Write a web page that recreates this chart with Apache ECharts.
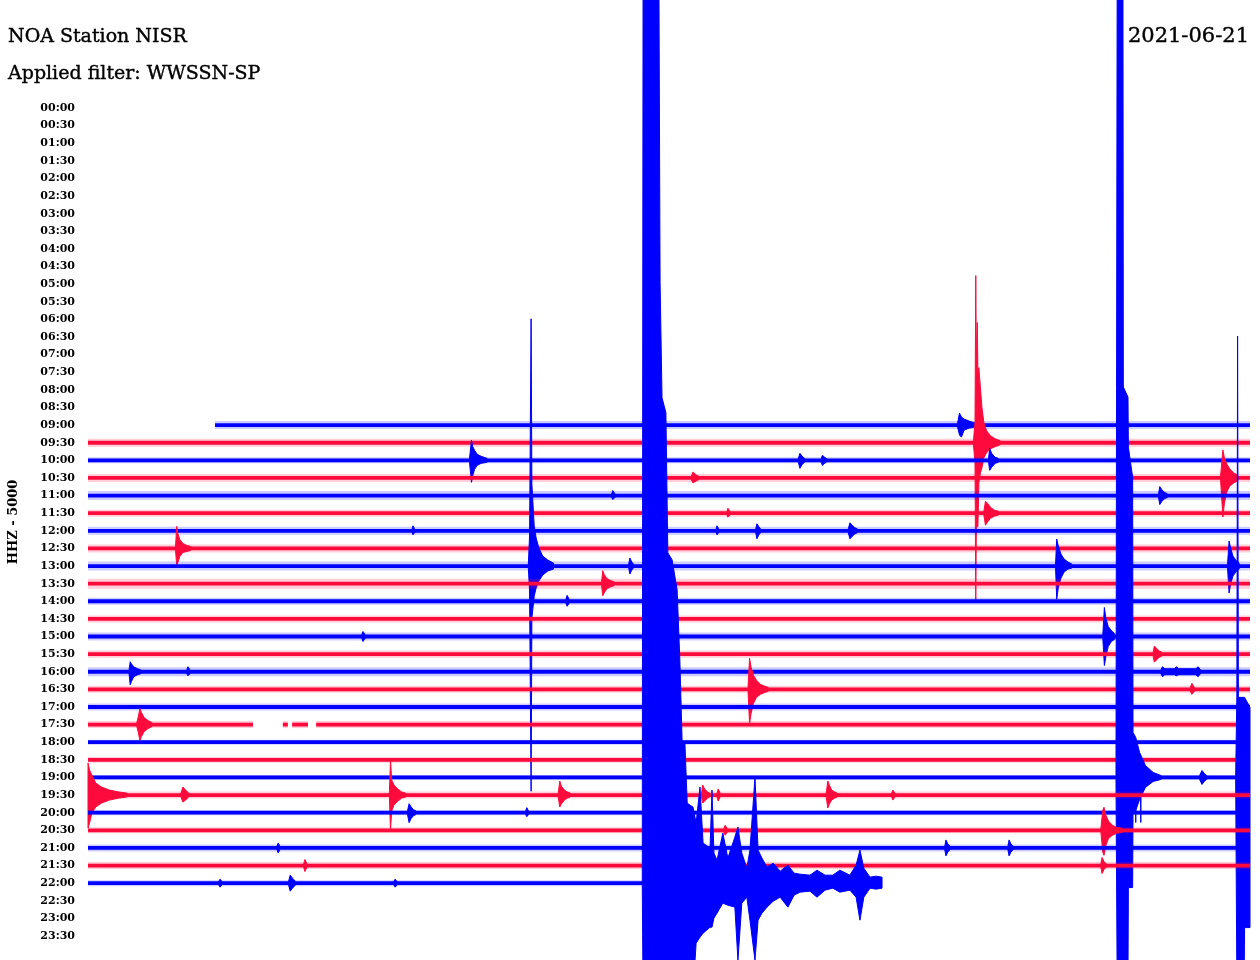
<!DOCTYPE html>
<html><head><meta charset="utf-8">
<script src="https://cdn.jsdelivr.net/npm/echarts@6/dist/echarts.min.js"></script>
<style>html,body{margin:0;padding:0;background:#fff}#c{width:1260px;height:960px}</style>
</head><body><div id="c"></div>
<script>
// ---- tick labels (one helicorder line per half hour) ----
const rowLabels = ['00:00','00:30','01:00','01:30','02:00','02:30','03:00','03:30','04:00','04:30','05:00','05:30',
  '06:00','06:30','07:00','07:30','08:00','08:30','09:00','09:30','10:00','10:30','11:00','11:30',
  '12:00','12:30','13:00','13:30','14:00','14:30','15:00','15:30','16:00','16:30','17:00','17:30',
  '18:00','18:30','19:00','19:30','20:00','20:30','21:00','21:30','22:00','22:30','23:00','23:30'];

// ---- lines that carry data ----
const traceRows = ['09:00','09:30','10:00','10:30','11:00','11:30','12:00','12:30','13:00','13:30','14:00','14:30',
  '15:00','15:30','16:00','16:30','17:00','17:30','18:00','18:30','19:00','19:30','20:00','20:30','21:00','21:30','22:00'];
// [first minute, last minute] of recorded data in each line
const traceSpans = [[3.28,30],[0,30],[0,30],[0,30],[0,30],[0,30],[0,30],[0,30],[0,30],[0,30],[0,30],[0,30],
  [0,30],[0,30],[0,30],[0,30],[0,30],[0,30],[0,30],[0,30],[0,30],[0,30],[0,30],[0,30],[0,30],[0,30],[0,20.5]];
// data gaps [line, from minute, to minute]
const traceGaps = [['17:30',4.26,5.03],['17:30',5.16,5.27],['17:30',5.68,5.89]];
// background noise level (counts) per line
const noiseLevel = [4,4,3,4,4.5,3.5,4,4,4.5,5,3.5,3.5,4,3.5,4.5,3.5,3.5,3.5,2.5,3,2.5,3.5,2.5,3,3.5,3.5,3];

// ---- events: each is a list of [minute, upward amplitude, downward amplitude] (counts) ----
const q0900 = [
  [[22.45,2,2],[22.50,12,10],[22.55,8,12],[22.62,6,5],[22.75,4,3],[22.9,2,2]]
];
const q0930 = [
  [[22.86,2,2],[22.90,20,20],[22.92,167,157],[22.935,80,84],[22.96,120,84],[22.975,70,84],[23.00,75,40],[23.04,55,30],[23.08,35,25],[23.13,20,15],[23.20,12,10],[23.30,7,6],[23.42,4,4],[23.55,2,2]]
];
const q1000 = [
  [[9.85,2,2],[9.90,20,22],[9.93,14,16],[9.98,10,9],[10.05,6,5],[10.15,4,3],[10.3,2,2]],
  [[18.34,2,2],[18.38,7,8],[18.44,4,4],[18.5,2,2]],
  [[18.93,2,2],[18.96,5,5],[19.02,3,3],[19.06,2,2]],
  [[23.25,2,2],[23.28,12,10],[23.33,7,7],[23.42,3,3],[23.5,2,2]]
];
const q1030 = [
  [[15.58,2,2],[15.62,6,5],[15.7,3,3],[15.76,2,2]],
  [[29.24,2,2],[29.30,28,39],[29.34,20,25],[29.40,14,14],[29.48,9,8],[29.58,5,5],[29.68,3,3]]
];
const q1100 = [
  [[13.52,2,2],[13.55,5,4],[13.6,2,2]],
  [[27.64,2,2],[27.67,9,9],[27.72,6,6],[27.8,3,3],[27.86,2,2]]
];
const q1130 = [
  [[16.5,2,2],[16.52,5,4],[16.57,2,2]],
  [[23.13,2,2],[23.17,12,12],[23.22,10,9],[23.3,6,5],[23.4,3,3],[23.5,2,2]]
];
const q1200 = [
  [[8.37,2,2],[8.39,5,4],[8.43,2,2]],
  [[16.22,2,2],[16.24,5,4],[16.28,2,2]],
  [[17.24,2,2],[17.27,7,8],[17.32,4,4],[17.36,2,2]],
  [[19.63,2,2],[19.67,8,8],[19.72,6,6],[19.8,3,3],[19.86,2,2]]
];
const q1230 = [
  [[2.26,2,2],[2.29,22,17],[2.32,15,14],[2.37,9,8],[2.45,5,4],[2.55,3,3],[2.65,2,2]]
];
const q1300 = [
  [[11.37,3,3],[11.40,30,25],[11.44,247,225],[11.46,82,52],[11.52,40,30],[11.57,28,22],[11.64,18,15],[11.74,10,9],[11.87,6,5],[12.02,3,3]],
  [[13.96,2,2],[13.99,8,8],[14.04,4,4],[14.08,2,2]],
  [[24.98,2,2],[25.01,27,33],[25.05,20,22],[25.12,12,12],[25.2,7,6],[25.3,4,3],[25.4,2,2]],
  [[29.42,2,2],[29.46,25,27],[29.5,18,18],[29.56,10,10],[29.65,5,5],[29.72,3,3]]
];
const q1330 = [
  [[13.26,2,2],[13.29,13,12],[13.33,9,9],[13.4,5,5],[13.5,3,3],[13.58,2,2]]
];
const q1400 = [
  [[12.34,2,2],[12.37,6,5],[12.42,2,2]]
];
const q1430 = [];
const q1500 = [
  [[7.07,2,2],[7.10,5,5],[7.15,2,2]],
  [[26.2,2,2],[26.24,29,29],[26.28,18,20],[26.34,10,10],[26.42,6,5],[26.5,3,3]]
];
const q1530 = [
  [[27.5,2,2],[27.53,8,8],[27.58,6,6],[27.66,3,3],[27.72,2,2]]
];
const q1600 = [
  [[1.06,2,2],[1.09,10,13],[1.12,8,10],[1.18,5,5],[1.28,3,3],[1.36,2,2]],
  [[2.55,2,2],[2.58,5,4],[2.63,2,2]],
  [[27.70,2,2],[27.74,5,5],[27.80,3,3],[28.05,3,3],[28.10,5,4],[28.16,3,3],[28.60,3,3],[28.66,5,5],[28.72,2,2]]
];
const q1630 = [
  [[17.04,2,2],[17.08,31,34],[17.12,22,24],[17.18,14,14],[17.26,9,8],[17.36,5,5],[17.48,3,3],[17.56,2,2]],
  [[28.46,2,2],[28.5,6,5],[28.56,2,2]]
];
const q1700 = [];
const q1730 = [
  [[1.26,2,2],[1.30,8,8],[1.34,16,16],[1.38,12,12],[1.45,7,7],[1.55,4,4],[1.65,2,2]]
];
const q1800 = [];
const q1830 = [];
const q1900 = [
  [[26.54,2,2],[26.57,790,200],[26.72,790,200],[26.73,390,200],[26.85,380,200],[26.86,330,110],[26.97,300,110],
   [26.98,45,35],[27.05,40,33],[27.15,25,22],[27.3,12,10],[27.5,5,4],[27.7,2,2]],
  [[27.04,2,2],[27.05,2,45],[27.06,2,2]],
  [[27.17,2,2],[27.18,2,45],[27.19,2,2]],
  [[28.7,2,2],[28.76,7,7],[28.82,4,4],[28.88,2,2]],
  [[29.63,2,2],[29.66,80,200],[29.68,441,200],[29.70,80,200],[29.85,80,200],[29.86,80,150],[30.0,70,150]]
];
const q1930 = [
  [[0.0,32,33],[0.04,25,28],[0.1,20,18],[0.2,12,12],[0.35,8,8],[0.55,5,5],[0.8,3,3],[1.0,2,2]],
  [[2.40,2,2],[2.45,8,7],[2.52,5,5],[2.6,2,2]],
  [[7.78,2,2],[7.81,35,35],[7.84,15,16],[7.9,10,10],[8.0,6,6],[8.1,3,3],[8.2,2,2]],
  [[12.14,2,2],[12.18,14,12],[12.22,9,9],[12.3,5,5],[12.38,3,3],[12.45,2,2]],
  [[15.84,2,2],[15.87,10,8],[15.92,6,6],[16.0,3,3],[16.05,2,2]],
  [[16.24,2,2],[16.27,6,6],[16.32,2,2]],
  [[19.06,2,2],[19.1,14,13],[19.14,10,9],[19.2,5,5],[19.28,3,3],[19.34,2,2]],
  [[20.75,2,2],[20.78,5,5],[20.83,2,2]]
];
const q2000 = [
  [[8.25,2,2],[8.29,9,10],[8.34,6,6],[8.4,3,3],[8.46,2,2]],
  [[11.30,2,2],[11.33,5,4],[11.37,2,2]]
];
const q2030 = [
  [[16.42,2,2],[16.45,5,5],[16.5,2,2]],
  [[26.15,2,2],[26.2,20,22],[26.23,23,25],[26.28,15,15],[26.35,9,8],[26.45,5,5],[26.55,3,3],[26.7,2,2]]
];
const q2100 = [
  [[4.88,2,2],[4.91,5,5],[4.95,2,2]],
  [[22.12,2,2],[22.15,8,8],[22.2,4,4],[22.25,2,2]],
  [[23.75,2,2],[23.78,8,8],[23.83,4,4],[23.88,2,2]]
];
const q2130 = [
  [[5.57,2,2],[5.60,6,6],[5.65,2,2]],
  [[26.15,2,2],[26.18,8,8],[26.23,4,4],[26.28,2,2]]
];
const q2200 = [
  [[3.38,2,2],[3.41,4,4],[3.45,2,2]],
  [[5.18,2,2],[5.22,8,8],[5.28,5,5],[5.35,2,2]],
  [[7.90,2,2],[7.93,4,4],[7.97,2,2]],
  [[14.31,2,2],[14.33,900,110],[14.74,900,110],[14.77,600,110],[14.82,485,110],[14.92,470,110],[14.97,330,110],
   [15.08,323,110],[15.21,293,110],[15.28,223,110],[15.34,140,110],[15.41,141,110],[15.47,80,110],[15.54,78,110],
   [15.62,76,110],[15.70,60,60],[15.80,96,54],[15.88,40,50],[16.06,35,44],[16.11,93,44],[16.16,30,35],[16.24,23,30],
   [16.39,50,20],[16.52,25,22],[16.70,46,24],[16.78,56,77],[16.88,30,20],[17.01,15,14],[17.09,33,37],[17.22,106,77],
   [17.30,33,37],[17.40,25,30],[17.53,16,24],[17.69,20,18],[17.87,12,14],[18.07,18,24],[18.23,10,12],[18.38,9,9],
   [18.64,8,8],[18.82,13,14],[19.03,8,7],[19.23,8,5],[19.41,13,9],[19.67,8,7],[19.83,18,14],[19.93,33,37],
   [20.03,15,14],[20.19,6,5],[20.34,7,6],[20.50,6,5]]
];
const traceEvents = [q0900,q0930,q1000,q1030,q1100,q1130,q1200,q1230,q1300,q1330,q1400,q1430,q1500,q1530,
  q1600,q1630,q1700,q1730,q1800,q1830,q1900,q1930,q2000,q2030,q2100,q2130,q2200];

// ---- drawing ----
const BLUE = '#0000ff', RED = '#ff0a3c';
const countsPerLine = 17.6;   // amplitude scale: counts per line spacing
const coreHalf = 1.9;

const chart = echarts.init(document.getElementById('c'), null, {renderer: 'canvas'});

function renderTrace(params, api) {
  const k = params.dataIndex;
  const row = rowLabels.indexOf(traceRows[k]);
  const color = row % 2 === 0 ? BLUE : RED;
  const children = [];
  let segs = [traceSpans[k].slice()];
  traceGaps.filter(g => g[0] === traceRows[k]).forEach(g => {
    const out = [];
    segs.forEach(s => {
      if (g[2] <= s[0] || g[1] >= s[1]) { out.push(s); return; }
      if (g[1] > s[0]) out.push([s[0], g[1]]);
      if (g[2] < s[1]) out.push([g[2], s[1]]);
    });
    segs = out;
  });
  const band = (a, b, h) => [api.coord([a, row - h / countsPerLine]), api.coord([b, row - h / countsPerLine]),
                             api.coord([b, row + h / countsPerLine]), api.coord([a, row + h / countsPerLine])];
  segs.forEach(s => {
    children.push({type: 'polygon', shape: {points: band(s[0], s[1], noiseLevel[k])},
      style: {fill: color, opacity: 0.2}, silent: true});
    children.push({type: 'polygon', shape: {points: band(s[0], s[1], coreHalf)},
      style: {fill: color}, silent: true});
  });
  traceEvents[k].forEach(ev => {
    const top = ev.map(p => api.coord([p[0], row - p[1] / countsPerLine]));
    const bot = ev.map(p => api.coord([p[0], row + p[2] / countsPerLine])).reverse();
    children.push({type: 'polygon', shape: {points: top.concat(bot)},
      style: {fill: color, stroke: color, lineWidth: 1}, silent: true});
  });
  return {type: 'group', children};
}

const option = {
  backgroundColor: '#ffffff',
  animation: false,
  grid: {left: 88, right: 10, top: 108, bottom: 24, containLabel: false},
  xAxis: {type: 'value', min: 0, max: 30, show: false},
  yAxis: {
    type: 'value', min: 0, max: rowLabels.length - 1, interval: 1, inverse: true,
    axisLine: {show: false}, axisTick: {show: false}, splitLine: {show: false},
    axisLabel: {
      margin: 13, color: '#000', fontFamily: 'DejaVu Serif', fontWeight: 'bold', fontSize: 11,
      hideOverlap: false, showMinLabel: true, showMaxLabel: true,
      formatter: v => rowLabels[v] || ''
    }
  },
  graphic: [
    {type: 'text', x: 8, y: 37, silent: true,
     style: {text: 'NOA Station NISR', fill: '#000', font: '19px "DejaVu Serif"', align: 'left', verticalAlign: 'middle',
             stroke: '#000', lineWidth: 0.4}},
    {type: 'text', x: 8, y: 74, silent: true,
     style: {text: 'Applied filter: WWSSN-SP', fill: '#000', font: '19px "DejaVu Serif"', align: 'left', verticalAlign: 'middle',
             stroke: '#000', lineWidth: 0.4}},
    {type: 'text', x: 1249, y: 37, silent: true,
     style: {text: '2021-06-21', fill: '#000', font: '21px "DejaVu Serif"', align: 'right', verticalAlign: 'middle',
             stroke: '#000', lineWidth: 0.4}},
    {type: 'text', x: 14, y: 522, rotation: Math.PI / 2, silent: true,
     style: {text: 'HHZ - 5000', fill: '#000', font: 'bold 13px "DejaVu Serif"', align: 'center', verticalAlign: 'middle'}}
  ],
  series: [{
    type: 'custom', coordinateSystem: 'cartesian2d', clip: false, silent: true,
    renderItem: renderTrace,
    data: traceRows.map(r => [0, rowLabels.indexOf(r)])
  }]
};
chart.setOption(option);
</script></body></html>
